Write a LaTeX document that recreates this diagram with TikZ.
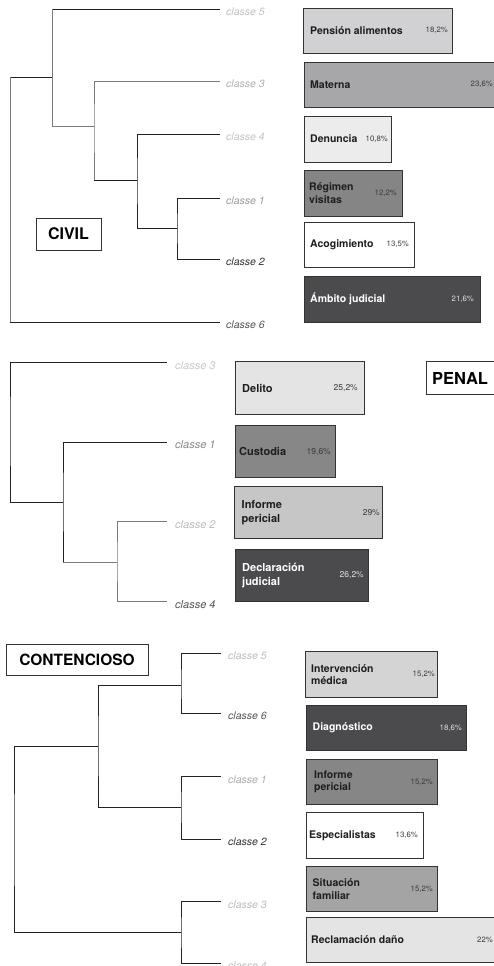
\documentclass[tikz,border=0pt]{standalone}
\usepackage{fontspec}
\setmainfont{TeX Gyre Heros}
\definecolor{bord}{HTML}{333333}
\definecolor{txt}{HTML}{1E1E1E}
\definecolor{pc}{HTML}{3A3A3A}
\definecolor{lk}{HTML}{222222}
\definecolor{lg}{HTML}{7A7A7A}
\definecolor{dk}{HTML}{4B4B4D}
\begin{document}
\begin{tikzpicture}[x=1pt,y=-1pt,
 bx/.style={draw=bord, line width=0.8pt, outer sep=0pt, inner sep=0pt, anchor=north west},
 lab/.style={font=\fontsize{10.5}{12.5}\selectfont\bfseries, text=txt, inner sep=0pt, anchor=west, align=left},
 labp/.style={lab, font=\fontsize{11}{14}\selectfont\bfseries},
 pct/.style={font=\fontsize{7.8}{9}\selectfont, text=pc, inner sep=0pt, anchor=east},
 pctp/.style={pct, font=\fontsize{8.5}{10}\selectfont},
 cls/.style={font=\fontsize{10.5}{12}\selectfont\itshape, inner sep=0pt, anchor=base west},
 clsp/.style={cls, font=\fontsize{11}{13}\selectfont\itshape},
 br/.style={line width=0.8pt, draw=lk},
 brg/.style={line width=0.8pt, draw=lg},
 ttl/.style={draw=bord, line width=0.8pt, inner sep=0pt, outer sep=0pt, anchor=north west, font=\fontsize{16}{18}\selectfont\bfseries, text=black}
]
\useasboundingbox (0,0) rectangle (494,966);

% ================= CIVIL =================
\coordinate (cv5) at (220,9.5);
\coordinate (cv3) at (220,81);
\coordinate (cv4) at (220,134);
\coordinate (cv1) at (220,198);
\coordinate (cv2) at (220,259);
\coordinate (cv6) at (220,322);
\coordinate (cvA) at (177,228);
\coordinate (cvB) at (137,180.7);
\coordinate (cvC) at (94,126);
\coordinate (cvD) at (52,77);
\coordinate (cvR) at (10,200);

\draw[br] (cv1) -| (cvA) |- (cv2);
\draw[br] (cv4) -| (cvB) |- (cvA);
\draw[brg] (cv3) -| (cvC) -- (cvC |- cvB);
\draw[br] (cvC |- cvB) -- (cvB);
\draw[br] (cv5) -- (cvD |- cv5);
\draw[brg] (cvD |- cv5) |- (cvC);
\draw[br] (cvR |- cvD) -- (cvD);
\draw[brg] (cvR |- cvD) -- (cvR |- cv6);
\draw[br] (cvR |- cv6) -- (cv6);

\node[cls, text={rgb,255:red,192;green,192;blue,192}] (lcv5) at ([xshift=6pt,yshift=-6.3pt]cv5) {classe 5};
\node[cls, text={rgb,255:red,176;green,176;blue,176}] (lcv3) at ([xshift=6pt,yshift=-6.3pt]cv3) {classe 3};
\node[cls, text={rgb,255:red,196;green,196;blue,196}] (lcv4) at ([xshift=6pt,yshift=-6.3pt]cv4) {classe 4};
\node[cls, text={rgb,255:red,154;green,154;blue,154}] (lcv1) at ([xshift=6pt,yshift=-6.3pt]cv1) {classe 1};
\node[cls, text={rgb,255:red,51;green,51;blue,51}] (lcv2) at ([xshift=6pt,yshift=-6.3pt]cv2) {classe 2};
\node[cls, text={rgb,255:red,85;green,85;blue,85}] (lcv6) at ([xshift=6pt,yshift=-6.3pt]cv6) {classe 6};

\node[bx, fill={rgb,255:red,209;green,209;blue,211}, minimum width=149pt, minimum height=45pt] (pa) at (303,8) {};
\node[lab] (pat) at ([xshift=7pt]pa.west) {Pensión alimentos};
\node[pct] (pap) at ([xshift=-4pt]pa.east) {18,2\%};

\node[bx, fill={rgb,255:red,167;green,167;blue,169}, minimum width=200pt, minimum height=45pt] (ma) at (304,62) {};
\node[lab] (mat) at ([xshift=6pt]ma.west) {Materna};
\node[pct] (map) at (493,84.5) {23,6\%};

\node[bx, fill={rgb,255:red,236;green,236;blue,237}, minimum width=87pt, minimum height=46pt] (de) at (304,116) {};
\node[lab] (det) at ([xshift=6pt]de.west) {Denuncia};
\node[pct] (dep) at ([xshift=-3pt]de.east) {10,8\%};

\node[bx, fill={rgb,255:red,133;green,133;blue,133}, minimum width=98pt, minimum height=46pt] (rv) at (304,170) {};
\node[lab] (rvt) at ([xshift=5pt]rv.west) {Régimen\\visitas};
\node[pct] (rvp) at ([xshift=-5pt]rv.east) {12,2\%};

\node[bx, fill=white, minimum width=110pt, minimum height=45pt] (ac) at (304,222) {};
\node[lab] (act) at ([xshift=6pt]ac.west) {Acogimiento};
\node[pct] (acp) at ([xshift=-5pt]ac.east) {13,5\%};

\node[bx, fill=dk, minimum width=176pt, minimum height=46pt] (am) at (304,276) {};
\node[lab, text=white] (amt) at ([xshift=6pt]am.west) {Ámbito judicial};
\node[pct, text={rgb,255:red,225;green,225;blue,225}] (amp) at ([xshift=-6pt]am.east) {21,6\%};

\node[ttl, minimum width=65pt, minimum height=32pt] (civil) at (36,218) {CIVIL};

% ================= PENAL =================
\coordinate (pn3) at (167,362.7);
\coordinate (pn1) at (167,442);
\coordinate (pn2) at (167,521.7);
\coordinate (pn4) at (167,601.7);
\coordinate (pnA) at (117,562);
\coordinate (pnB) at (63,502);
\coordinate (pnR) at (10,430);

\draw[brg] (pn2) -| (pnA) |- (pn4);
\draw[br] (pn1) -| (pnB) -- (pnB |- pnA);
\draw[brg] (pnB |- pnA) -- (pnA);
\draw[br] (pn3) -| (pnR) |- (pnB);

\node[clsp, text={rgb,255:red,200;green,200;blue,200}] (lpn3) at ([xshift=8pt,yshift=-6.5pt]pn3) {classe 3};
\node[clsp, text={rgb,255:red,136;green,136;blue,136}] (lpn1) at ([xshift=8pt,yshift=-6.5pt]pn1) {classe 1};
\node[clsp, text={rgb,255:red,187;green,187;blue,187}] (lpn2) at ([xshift=8pt,yshift=-6.5pt]pn2) {classe 2};
\node[clsp, text={rgb,255:red,85;green,85;blue,85}] (lpn4) at ([xshift=8pt,yshift=-6.5pt]pn4) {classe 4};

\node[bx, fill={rgb,255:red,228;green,228;blue,229}, minimum width=129pt, minimum height=53pt] (dl) at (235,361.7) {};
\node[labp] (dlt) at ([xshift=7pt]dl.west) {Delito};
\node[pctp] (dlp) at ([xshift=-6pt]dl.east) {25,2\%};

\node[bx, fill={rgb,255:red,135;green,135;blue,135}, minimum width=100pt, minimum height=52pt] (cu) at (235,425.7) {};
\node[labp] (cut) at ([xshift=4pt]cu.west) {Custodia};
\node[pctp] (cup) at ([xshift=-4pt]cu.east) {19,6\%};

\node[bx, fill={rgb,255:red,198;green,198;blue,198}, minimum width=148pt, minimum height=52.7pt] (ip) at (234,486) {};
\node[labp] (ipt) at ([xshift=7.5pt]ip.west) {Informe\\pericial};
\node[pctp] (ipp) at ([xshift=-2pt]ip.east) {29\%};

\node[bx, fill=dk, minimum width=133pt, minimum height=52.4pt] (dj) at (235,549.3) {};
\node[labp, text=white] (djt) at ([xshift=7pt]dj.west) {Declaración\\judicial};
\node[pctp, text={rgb,255:red,225;green,225;blue,225}] (djp) at ([xshift=-4pt]dj.east) {26,2\%};

\node[bx, fill=white, minimum width=90pt, minimum height=33pt] (penal) at (426,361.7) {};
\node[font=\fontsize{16.5}{18}\selectfont\bfseries, inner sep=0pt, anchor=west] (penalt) at ([xshift=6pt]penal.west) {PENAL};

% ================= CONTENCIOSO =================
\coordinate (ct5) at (221,653.3);
\coordinate (ct6) at (221,713.3);
\coordinate (ct1) at (221,776.7);
\coordinate (ct2) at (221,839.3);
\coordinate (ct3) at (221,901.7);
\coordinate (ct4) at (221,963.3);
\coordinate (ctA) at (181,685);
\coordinate (ctB) at (181,807.3);
\coordinate (ctC) at (98,746);
\coordinate (ctD) at (181,932.7);
\coordinate (ctR) at (14,840);

\draw[br] (ct5) -| (ctA) |- (ct6);
\draw[br] (ct1) -| (ctB) |- (ct2);
\draw[br] (ctA) -| (ctC) |- (ctB);
\draw[br] (ct3) -| (ctD) |- (ct4);
\draw[br] (ctC) -| (ctR) |- (ctD);

\node[cls, text={rgb,255:red,189;green,189;blue,189}] (lct5) at ([xshift=7pt,yshift=-6.3pt]ct5) {classe 5};
\node[cls, text={rgb,255:red,85;green,85;blue,85}] (lct6) at ([xshift=7pt,yshift=-6.3pt]ct6) {classe 6};
\node[cls, text={rgb,255:red,170;green,170;blue,170}] (lct1) at ([xshift=7pt,yshift=-6.3pt]ct1) {classe 1};
\node[cls, text={rgb,255:red,51;green,51;blue,51}] (lct2) at ([xshift=7pt,yshift=-6.3pt]ct2) {classe 2};
\node[cls, text={rgb,255:red,187;green,187;blue,187}] (lct3) at ([xshift=7pt,yshift=-6.3pt]ct3) {classe 3};
\node[cls, text={rgb,255:red,187;green,187;blue,187}] (lct4) at ([xshift=7pt,yshift=-6.3pt]ct4) {classe 4};

\node[bx, fill={rgb,255:red,212;green,212;blue,213}, minimum width=132pt, minimum height=46pt] (im) at (305,651.7) {};
\node[lab] (imt) at ([xshift=6pt]im.west) {Intervención\\médica};
\node[pct] (imp) at ([xshift=-2pt]im.east) {15,2\%};

\node[bx, fill=dk, minimum width=160pt, minimum height=45.7pt] (dg) at (306,705) {};
\node[lab, text=white] (dgt) at ([xshift=6.5pt]dg.west) {Diagnóstico};
\node[pct, text={rgb,255:red,225;green,225;blue,225}] (dgp) at ([xshift=-4pt]dg.east) {18,6\%};

\node[bx, fill={rgb,255:red,134;green,134;blue,134}, minimum width=131pt, minimum height=45pt] (ip2) at (306,759.3) {};
\node[lab] (ip2t) at ([xshift=8pt]ip2.west) {Informe\\pericial};
\node[pct] (ip2p) at ([xshift=-4pt]ip2.east) {15,2\%};

\node[bx, fill=white, minimum width=117pt, minimum height=46pt] (es) at (306,812.3) {};
\node[lab] (est) at ([xshift=3pt]es.west) {Especialistas};
\node[pct] (esp) at ([xshift=-5pt]es.east) {13,6\%};

\node[bx, fill={rgb,255:red,164;green,164;blue,164}, minimum width=131pt, minimum height=45.7pt] (sf) at (306,866) {};
\node[lab] (sft) at ([xshift=6.5pt]sf.west) {Situación\\familiar};
\node[pct] (sfp) at ([xshift=-4pt]sf.east) {15,2\%};

\node[bx, fill={rgb,255:red,228;green,228;blue,229}, minimum width=200pt, minimum height=45pt] (rd) at (306,917.3) {};
\node[lab] (rdt) at ([xshift=5pt]rd.west) {Reclamación daño};
\node[pct] (rdp) at (493,939.8) {22\%};

\node[ttl, minimum width=142pt, minimum height=31pt, font=\fontsize{15.5}{18}\selectfont\bfseries] (cont) at (6,644) {CONTENCIOSO};
\end{tikzpicture}
\end{document}
